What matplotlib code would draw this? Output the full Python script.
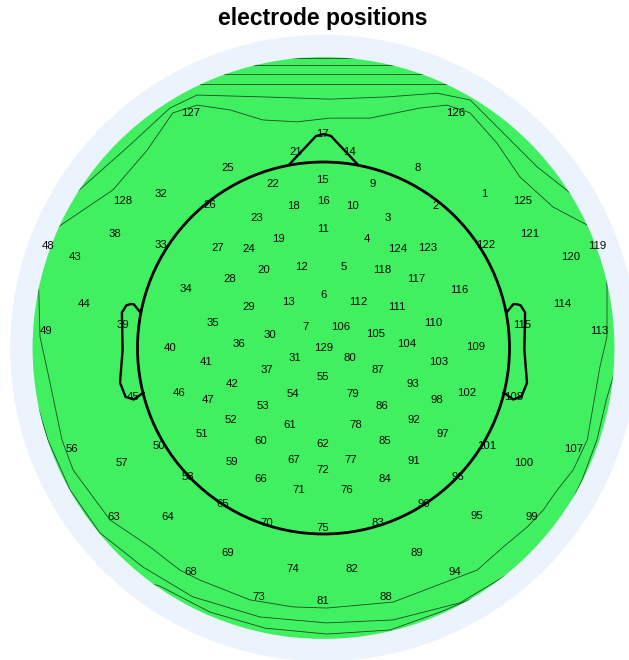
import numpy as np
import matplotlib
matplotlib.use("Agg")
import matplotlib.pyplot as plt
from matplotlib.patches import Circle

# channel numbers and 2-D positions (head radius = 0.5, nose toward +y)
labels = list(range(1, 130))
chan_x = [
    0.431, 0.300, 0.173, 0.117, 0.054, 0.000, -0.048, 0.254, 0.132, 0.079,
    0.000, -0.058, -0.094, 0.069, -0.004, 0.000, -0.004, -0.082, -0.120, -0.160,
    -0.074, -0.136, -0.179, -0.200, -0.257, -0.305, -0.284, -0.253, -0.200, -0.145,
    -0.077, -0.438, -0.437, -0.370, -0.297, -0.227, -0.152, -0.560, -0.538, -0.413,
    -0.316, -0.246, -0.667, -0.644, -0.512, -0.388, -0.309, -0.741, -0.746, -0.442,
    -0.327, -0.249, -0.163, -0.083, -0.003, -0.676, -0.543, -0.364, -0.246, -0.169,
    -0.091, -0.003, -0.563, -0.418, -0.272, -0.168, -0.079, -0.358, -0.257, -0.153,
    -0.067, -0.003, -0.173, -0.082, -0.001, 0.062, 0.073, 0.087, 0.078, 0.070,
    -0.003, 0.077, 0.147, 0.164, 0.165, 0.157, 0.147, 0.168, 0.251, 0.269,
    0.242, 0.243, 0.241, 0.352, 0.413, 0.360, 0.321, 0.305, 0.559, 0.539,
    0.438, 0.384, 0.310, 0.224, 0.141, 0.046, 0.672, 0.511, 0.410, 0.294,
    0.198, 0.093, 0.742, 0.641, 0.535, 0.366, 0.249, 0.157, 0.735, 0.665,
    0.555, 0.437, 0.281, 0.198, 0.536, 0.356, -0.356, -0.539, 0.000,
]
chan_y = [
    0.414, 0.382, 0.349, 0.293, 0.218, 0.142, 0.056, 0.484, 0.441, 0.382,
    0.320, 0.218, 0.125, 0.527, 0.452, 0.394, 0.575, 0.382, 0.293, 0.210,
    0.527, 0.442, 0.349, 0.266, 0.484, 0.384, 0.269, 0.185, 0.110, 0.036,
    -0.026, 0.414, 0.277, 0.159, 0.067, 0.011, -0.059, 0.306, 0.062, 0.001,
    -0.038, -0.097, 0.245, 0.118, -0.132, -0.121, -0.140, 0.274, 0.047, -0.263,
    -0.231, -0.194, -0.156, -0.124, -0.078, -0.272, -0.309, -0.348, -0.306, -0.250,
    -0.207, -0.257, -0.454, -0.453, -0.418, -0.353, -0.300, -0.602, -0.551, -0.470,
    -0.382, -0.329, -0.669, -0.594, -0.485, -0.382, -0.300, -0.207, -0.124, -0.027,
    -0.681, -0.593, -0.470, -0.353, -0.249, -0.156, -0.059, -0.669, -0.551, -0.418,
    -0.305, -0.194, -0.097, -0.602, -0.452, -0.348, -0.231, -0.140, -0.453, -0.309,
    -0.263, -0.121, -0.038, 0.011, 0.038, 0.056, -0.272, -0.132, 0.003, 0.067,
    0.110, 0.125, 0.047, 0.118, 0.062, 0.157, 0.185, 0.210, 0.274, 0.245,
    0.306, 0.278, 0.269, 0.266, 0.395, 0.632, 0.632, 0.395, 0.000,
]

# iso-lines of the interpolated map near the rim
contour_lines = [
    ([-0.8, 0.8], [0.779, 0.779]),
    ([-0.8, 0.8], [0.761, 0.761]),
    ([-0.8, 0.8], [0.737, 0.737]),
    ([-0.8, 0.8], [0.710, 0.710]),
    ([-0.708, -0.663, -0.520, -0.413, -0.340, -0.163, 0.017, 0.171, 0.305, 0.394,
      0.483, 0.574, 0.663, 0.708],
     [0.379, 0.419, 0.546, 0.645, 0.680, 0.675, 0.669, 0.675, 0.685, 0.667,
      0.578, 0.487, 0.417, 0.376]),
    ([-0.740, -0.714, -0.566, -0.474, -0.405, -0.340, -0.251, -0.163, -0.071, 0.017,
      0.125, 0.259, 0.332, 0.394, 0.466, 0.528, 0.617, 0.708, 0.740],
     [0.305, 0.325, 0.425, 0.532, 0.632, 0.653, 0.640, 0.613, 0.608, 0.618,
      0.618, 0.645, 0.653, 0.632, 0.551, 0.460, 0.379, 0.331, 0.310]),
    ([-0.767, -0.762, -0.735, -0.703, -0.673, -0.574, -0.466, -0.386, -0.332, -0.198,
      -0.082, 0.009, 0.187, 0.321, 0.413, 0.483, 0.548, 0.591, 0.628, 0.671,
      0.709, 0.743, 0.762, 0.762, 0.775],
     [0.210, 0.030, -0.094, -0.247, -0.328, -0.462, -0.535, -0.597, -0.624, -0.677,
      -0.696, -0.699, -0.683, -0.632, -0.597, -0.535, -0.481, -0.435, -0.382, -0.328,
      -0.247, -0.051, 0.030, 0.183, 0.210]),
    ([-0.789, -0.773, -0.741, -0.681, -0.601, -0.485, -0.351, -0.171, 0.009, 0.187,
      0.367, 0.501, 0.590, 0.649, 0.695, 0.735, 0.760, 0.784],
     [-0.073, -0.140, -0.247, -0.382, -0.497, -0.589, -0.669, -0.723, -0.739, -0.731,
      -0.685, -0.605, -0.535, -0.449, -0.355, -0.247, -0.140, -0.059]),
    ([-0.493, -0.440, -0.305, -0.157, 0.009, 0.179, 0.313, 0.487],
     [-0.626, -0.640, -0.710, -0.753, -0.769, -0.758, -0.710, -0.637]),
]

# head outline parts
head_rad = 0.5
nose_x = [0.090, 0.020, 0.0, -0.020, -0.090]
nose_y = [0.4954, 0.570, 0.575, 0.570, 0.4954]
ear_x = np.array([0.492, 0.510, 0.518, 0.5299, 0.5419, 0.540, 0.547, 0.532, 0.510, 0.484])
ear_y = np.array([0.0955, 0.1175, 0.1183, 0.1146, 0.0955, -0.0055, -0.0932, -0.1313, -0.1384, -0.1199])

map_rad = 0.782
ring_rad = 0.842

fig = plt.figure(figsize=(6.29, 6.6), dpi=100)
ax = fig.add_axes([0, 0, 1, 1])
ax.set_xlim(-0.8696, 0.8212)
ax.set_ylim(-0.8387, 0.9355)
ax.axis("off")

ax.add_patch(Circle((0, 0), ring_rad, fc="#ebf3fd", ec="none", zorder=0))
disk = Circle((0, 0), map_rad, fc="#41f060", ec="none", zorder=1)
ax.add_patch(disk)

for cx, cy in contour_lines:
    ln, = ax.plot(cx, cy, color="#1d4a22", lw=0.6, zorder=2)
    ln.set_clip_path(disk)

ax.add_patch(Circle((0, 0), head_rad, fill=False, ec="black", lw=2.0, zorder=3))
ax.plot(nose_x, nose_y, color="black", lw=1.7, zorder=3, solid_joinstyle="round")
ax.plot(ear_x, ear_y, color="black", lw=1.7, zorder=3, solid_joinstyle="round")
ax.plot(-ear_x, ear_y, color="black", lw=1.7, zorder=3, solid_joinstyle="round")

for lab, x, y in zip(labels, chan_x, chan_y):
    ax.text(x, y, str(lab), ha="center", va="center", fontsize=8.2,
            family="Liberation Sans", color="#0a0a0a", zorder=4)

fig.text(0.513, 1 - 18 / 660, "electrode positions", ha="center", va="center",
         fontsize=16.5, fontweight="bold", family="Liberation Sans")

fig.savefig("out.png", dpi=100)
